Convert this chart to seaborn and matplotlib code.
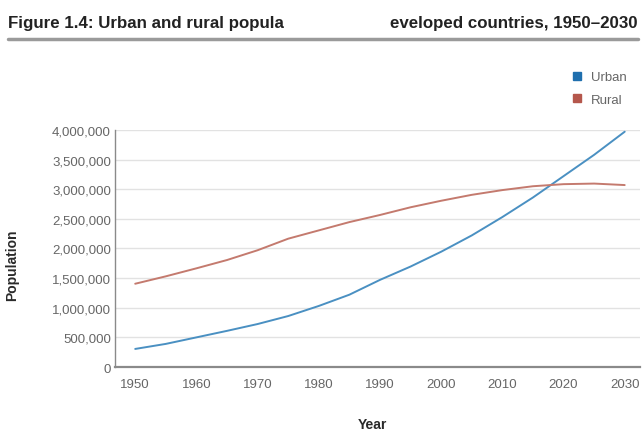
import matplotlib
matplotlib.use('Agg')
import matplotlib.pyplot as plt
import numpy as np
import pandas as pd
import seaborn as sns
from matplotlib.lines import Line2D
from matplotlib.ticker import FuncFormatter, MultipleLocator, FixedLocator

# data (population, every 5 years)
years = [1950, 1955, 1960, 1965, 1970, 1975, 1980, 1985, 1990,
         1995, 2000, 2005, 2010, 2015, 2020, 2025, 2030]
urban = [305000, 390000, 500000, 610000, 725000, 860000, 1030000, 1220000, 1470000,
         1695000, 1945000, 2220000, 2530000, 2860000, 3220000, 3580000, 3970000]
rural = [1405000, 1530000, 1665000, 1805000, 1970000, 2165000, 2305000, 2445000, 2565000,
         2695000, 2805000, 2905000, 2985000, 3050000, 3085000, 3095000, 3070000]
series_names = ['Urban', 'Rural']
series_colors = {'Urban': '#4a90c2', 'Rural': '#c47a6e'}
legend_colors = {'Urban': '#1f6fae', 'Rural': '#b5574c'}

df = pd.DataFrame({
    'Year': years * 2,
    'Population': urban + rural,
    'Area': ['Urban'] * len(years) + ['Rural'] * len(years),
})

sns.set_style('white')
plt.rcParams['font.family'] = ['Liberation Sans', 'DejaVu Sans']

fig = plt.figure(figsize=(6.44, 4.35), dpi=100)
ax = fig.add_axes([0.1786, 0.154, 0.8152, 0.545])

sns.lineplot(data=df, x='Year', y='Population', hue='Area', palette=series_colors,
             hue_order=series_names, linewidth=1.4, legend=False, ax=ax)

ax.set_xlim(1946.7, 2032.5)
ax.set_ylim(0, 4000000)
ax.yaxis.set_major_locator(MultipleLocator(500000))
ax.yaxis.set_major_formatter(FuncFormatter(lambda v, p: f'{int(v):,}'))
ax.xaxis.set_major_locator(MultipleLocator(10))
ax.xaxis.set_minor_locator(FixedLocator(np.arange(1952.5, 2033, 5)))
ax.grid(axis='y', color='#e2e2e2', linewidth=1.0)
ax.set_axisbelow(True)

for s in ['top', 'right']:
    ax.spines[s].set_visible(False)
ax.spines['left'].set_color('#8a8a8a')
ax.spines['bottom'].set_color('#8a8a8a')
ax.spines['left'].set_linewidth(1.0)
ax.spines['bottom'].set_linewidth(1.6)

ax.tick_params(axis='y', length=0, pad=3, labelsize=9.5, labelcolor='#666666')
ax.tick_params(axis='x', which='major', length=0, pad=8, labelsize=9.5, labelcolor='#666666')
ax.tick_params(axis='x', which='minor', direction='in', length=3, color='#8a8a8a', width=1)

ax.set_xlabel('')
ax.set_ylabel('')
fig.text(0.579, 0.008, 'Year', ha='center', va='bottom', fontsize=10,
         fontweight='bold', color='#2a2a2a')
fig.text(0.008, 0.39, 'Population', ha='left', va='center', rotation=90,
         fontsize=10, fontweight='bold', color='#2a2a2a')

# title, with the gap as in the source
fig.text(0.012, 0.945, 'Figure 1.4: Urban and rural popula', ha='left', va='center',
         fontsize=12.2, fontweight='bold', color='#222222')
fig.text(0.990, 0.945, 'eveloped countries, 1950\u20132030', ha='right', va='center',
         fontsize=12.2, fontweight='bold', color='#222222')
fig.add_artist(Line2D([0.012, 0.990], [0.907, 0.907], transform=fig.transFigure,
                      color='#9a9a9a', linewidth=2.5))

handles = [Line2D([], [], marker='s', linestyle='', markersize=6,
                  markerfacecolor=legend_colors[n], markeredgecolor=legend_colors[n])
           for n in series_names]
fig.legend(handles, series_names, loc='upper right', bbox_to_anchor=(0.992, 0.862),
           frameon=False, fontsize=9.5, labelcolor='#666666', handletextpad=0.6,
           labelspacing=0.8, handlelength=1.0)

fig.savefig('out.png', dpi=100)
